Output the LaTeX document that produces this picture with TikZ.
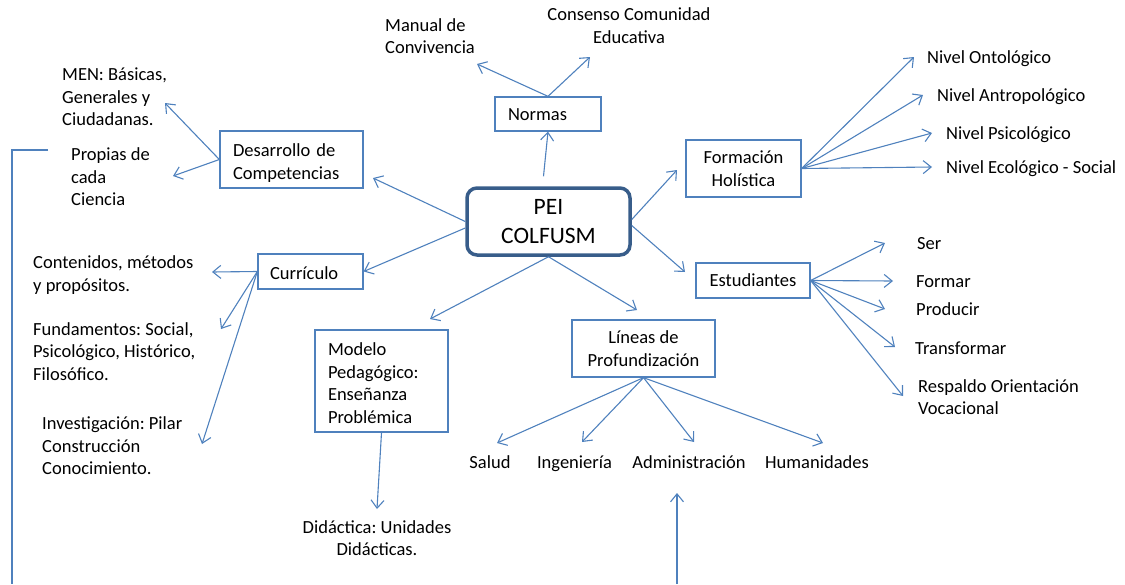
\documentclass[tikz,border=0pt]{standalone}
\usepackage{fontspec}
\setmainfont{Carlito}
\usetikzlibrary{arrows.meta}
\frenchspacing

\definecolor{lineblue}{HTML}{4F81BD}
\definecolor{peiblue}{HTML}{385D8A}

\tikzset{
  conn/.style={draw=lineblue, line width=1.1pt, -{Straight Barb[length=8pt,width=13pt]}},
  box/.style={draw=lineblue, line width=1.3pt, inner ysep=0pt, font=\fontsize{18.5}{22.5}\selectfont},
  txt/.style={inner sep=0pt, align=left, anchor=west, text depth=0pt, font=\fontsize{18.5}{22.5}\selectfont},
  oneline/.style={text height=12pt, text depth=0pt},
}

\begin{document}
\begin{tikzpicture}[x=1pt, y=-1pt]

\useasboundingbox (0,0) rectangle (1125,584);

% centre
\node[draw=peiblue, line width=3.5pt, rounded corners=10pt, minimum width=163pt, minimum height=67pt,
      align=center, text depth=0pt, font=\fontsize{23.5}{29}\selectfont] (pei) at (548.5,221.5) {PEI\\COLFUSM};

% boxes
\node[box, text width=80pt, inner xsep=13pt, minimum height=34pt, align=left, text height=14pt] (normas) at (548,114) {Normas};

\node[box, text width=117pt, inner xsep=13pt, minimum height=57pt, align=left, text height=19.5pt] (des) at (291.5,159.5) {Desarrollo de\\Competencias};

\node[box, text width=81pt, inner xsep=12pt, minimum height=35pt, align=left, text height=16pt] (curr) at (310.5,271.5) {Currículo};

\node[box, text width=107pt, inner xsep=13pt, minimum height=102pt, align=left, text height=17.5pt] (mod) at (381.5,381) {Modelo\\Pedagógico:\\Enseñanza\\Problémica};

\node[box, text depth=0pt, minimum width=115pt, minimum height=57pt, align=center] (form) at (743.5,168.5) {Formación\\Holística};

\node[box, text depth=0pt, minimum width=114pt, minimum height=35pt] (est) at (753,280.5) {Estudiantes};

\node[box, text depth=0pt, minimum width=143pt, minimum height=57pt, align=center] (lin) at (643.5,348.5) {Líneas de\\Profundización};

% texts
\node[txt] (manual) at (385,36) {Manual de\\Convivencia};
\node[txt, anchor=center, align=center] (consenso) at (629,25.5) {Consenso Comunidad\\Educativa};

\node[txt] (men) at (62,97) {MEN: Básicas,\\Generales y\\Ciudadanas.};
\node[txt] (propias) at (71,177) {Propias de\\cada\\Ciencia};

\node[txt, oneline] (ont) at (927,57) {Nivel Ontológico};
\node[txt, oneline] (ant) at (937,95) {Nivel Antropológico};
\node[txt, oneline] (psi) at (946,133) {Nivel Psicológico};
\node[txt, oneline] (eco) at (946,167) {Nivel Ecológico - Social};

\node[txt, oneline] (ser) at (917,243) {Ser};
\node[txt, oneline] (formar) at (916,281) {Formar};
\node[txt, oneline] (producir) at (916,309) {Producir};
\node[txt, oneline] (transf) at (915,348) {Transformar};
\node[txt] (respaldo) at (918,397) {Respaldo Orientación\\Vocacional};

\node[txt] (cont) at (33,273.5) {Contenidos, métodos\\y propósitos.};
\node[txt] (fund) at (33,351.5) {Fundamentos: Social,\\Psicológico, Histórico,\\Filosófico.};
\node[txt] (inv) at (42,446) {Investigación: Pilar\\Construcción\\Conocimiento.};

\node[txt, anchor=center, align=center] (did) at (377,538) {Didáctica: Unidades\\Didácticas.};

\node[txt, oneline, anchor=center] (salud) at (490,462) {Salud};
\node[txt, oneline, anchor=center] (ing) at (574.5,462) {Ingeniería};
\node[txt, oneline, anchor=center] (adm) at (689,462) {Administración};
\node[txt, oneline, anchor=center] (hum) at (817,462) {Humanidades};

% arrow tips
\coordinate (tDes) at (373,178);
\coordinate (tMan) at (477,64);
\coordinate (tCon) at (590,57);
\coordinate (tMen) at (165,103);
\coordinate (tProp) at (173,176);
\coordinate (tForm) at (677,170);
\coordinate (tOnt) at (914,57);
\coordinate (tAnt) at (923,95);
\coordinate (tPsi) at (932,133);
\coordinate (tEco) at (932,167);
\coordinate (tEst) at (685,272);
\coordinate (tSer) at (885,243);
\coordinate (tFor) at (893,281);
\coordinate (tPro) at (885,309);
\coordinate (tTra) at (895,347);
\coordinate (tRes) at (903,396);
\coordinate (tCont) at (212,272);
\coordinate (tFund) at (221,329);
\coordinate (tInv) at (202,444);
\coordinate (tMod) at (430,319);
\coordinate (tDid) at (377,509);
\coordinate (tLin) at (637,310);
\coordinate (tSal) at (497,443);
\coordinate (tIng) at (582,442);
\coordinate (tAdm) at (694,442);
\coordinate (tHum) at (823,443);

\coordinate (brA) at (48,150);
\coordinate (brC) at (12,584);
\coordinate (upS) at (677,584);
\coordinate (upE) at (677,493);

% from PEI
\draw[conn] ([xshift=-5pt,yshift=10pt]pei.north) -- (normas.south);
\draw[conn] (pei.west) -- (tDes);
\draw[conn] ([yshift=-6.5pt]pei.west) -- (curr.east);
\draw[conn] ([yshift=2pt]pei.east) -- (tForm);
\draw[conn] ([yshift=-4pt]pei.east) -- (tEst);
\draw[conn] (pei.south) -- (tMod);
\draw[conn] (pei.south) -- (tLin);

% Normas
\draw[conn] (normas.north) -- (tMan);
\draw[conn] (normas.north) -- (tCon);

% Desarrollo
\draw[conn] (des.west) -- (tMen);
\draw[conn] (des.west) -- (tProp);

% Formacion
\draw[conn] (form.east) -- (tOnt);
\draw[conn] (form.east) -- (tAnt);
\draw[conn] (form.east) -- (tPsi);
\draw[conn] (form.east) -- (tEco);

% Estudiantes
\draw[conn] (est.east) -- (tSer);
\draw[conn] (est.east) -- (tFor);
\draw[conn] (est.east) -- (tPro);
\draw[conn] (est.east) -- (tTra);
\draw[conn] (est.east) -- (tRes);

% Curriculo
\draw[conn] (curr.west) -- (tCont);
\draw[conn] (curr.west) -- (tFund);
\draw[conn] (curr.west) -- (tInv);

% Modelo
\draw[conn] (mod.south) -- (tDid);

% Lineas
\draw[conn] (lin.south) -- (tSal);
\draw[conn] (lin.south) -- (tIng);
\draw[conn] (lin.south) -- (tAdm);
\draw[conn] (lin.south) -- (tHum);

% open lines
\draw[lineblue, line width=1.1pt] (brA) -| (brC);
\draw[conn] (upS) -- (upE);

\end{tikzpicture}
\end{document}
